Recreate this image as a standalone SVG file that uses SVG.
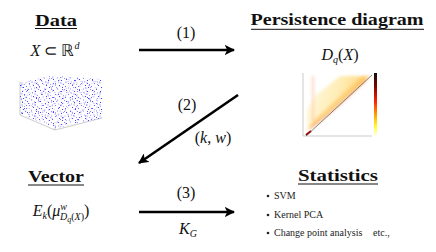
<svg xmlns="http://www.w3.org/2000/svg" width="436" height="252" viewBox="0 0 436 252" font-family="'Liberation Serif', 'Times New Roman', serif">
<style>
.t{font-weight:bold;font-size:17px;text-anchor:middle;fill:#111}
.m{font-style:italic;font-size:16px;text-anchor:middle;fill:#111}
.n{font-size:16px;text-anchor:middle;fill:#111}
.s{font-size:10px;fill:#222}
.u{stroke:#111;stroke-width:1}
.c{stroke:#000;stroke-width:2.6;fill:none}
.ax{stroke:#aaa;stroke-width:0.6;fill:none}
</style>
<defs>
<marker id="ah" viewBox="0 0 10 10" refX="9" refY="5" markerWidth="4" markerHeight="4" orient="auto" markerUnits="strokeWidth">
<path d="M0,0 L10,5 L0,10 L2.5,5 Z" fill="#000"/>
</marker>
<pattern id="p1" width="13" height="11" patternUnits="userSpaceOnUse">
<g fill="#4040ff">
<rect x="1" y="2" width="1" height="1"/><rect x="5" y="0.5" width="1" height="1" opacity=".6"/>
<rect x="9" y="3" width="1" height="1"/><rect x="3" y="6" width="1" height="1" opacity=".7"/>
<rect x="7" y="8" width="1" height="1"/><rect x="11" y="7" width="1" height="1" opacity=".5"/>
<rect x="0" y="9" width="1" height="1" opacity=".8"/><rect x="10" y="10" width="1" height="1"/>
<rect x="6" y="4.5" width="1" height="1" opacity=".5"/><rect x="12" y="1" width="1" height="1" opacity=".6"/>
<rect x="2.5" y="4" width="1" height="1" opacity=".4"/><rect x="8.5" y="5.5" width="1" height="1" opacity=".7"/>
</g>
</pattern>
<pattern id="p2" width="17" height="14" patternUnits="userSpaceOnUse" patternTransform="translate(3,2)">
<g fill="#5a5aff">
<rect x="2" y="1" width="1" height="1" opacity=".6"/><rect x="8" y="3" width="1" height="1"/>
<rect x="14" y="1.5" width="1" height="1" opacity=".7"/><rect x="4" y="8" width="1" height="1"/>
<rect x="12" y="6" width="1" height="1" opacity=".5"/><rect x="16" y="11" width="1" height="1"/>
<rect x="9" y="12" width="1" height="1" opacity=".6"/><rect x="1" y="12.5" width="1" height="1"/>
<rect x="6" y="5" width="1" height="1" opacity=".8"/><rect x="11" y="9.5" width="1" height="1" opacity=".5"/>
<rect x="15" y="4.5" width="1" height="1" opacity=".6"/><rect x="5.5" y="10.5" width="1" height="1" opacity=".4"/>
</g>
</pattern>
<pattern id="p3" width="7" height="9" patternUnits="userSpaceOnUse" patternTransform="translate(1,4) rotate(17)">
<g fill="#7070ff">
<rect x="1" y="1" width="1" height="1" opacity=".55"/><rect x="4.5" y="4" width="1" height="1" opacity=".4"/>
<rect x="2.5" y="7" width="1" height="1" opacity=".6"/>
</g>
</pattern>
<linearGradient id="cb" x1="0" y1="0" x2="0" y2="1">
<stop offset="0" stop-color="#111"/><stop offset="0.2" stop-color="#7a0000"/>
<stop offset="0.45" stop-color="#ff2000"/><stop offset="0.65" stop-color="#ff9a00"/>
<stop offset="0.85" stop-color="#ffff30"/><stop offset="1" stop-color="#fffff0"/>
</linearGradient>
<linearGradient id="wedge" x1="0" y1="0" x2="1" y2="0.3">
<stop offset="0" stop-color="#fffbea"/><stop offset="0.5" stop-color="#ffeeb8"/><stop offset="1" stop-color="#ffd070"/>
</linearGradient>
<filter id="blur" x="-20%" y="-20%" width="140%" height="140%"><feGaussianBlur stdDeviation="1.6"/></filter>
</defs>

<g id="data">
<text class="t" x="56" y="26" textLength="42" lengthAdjust="spacingAndGlyphs">Data</text>
<line class="u" x1="35" y1="28.5" x2="77" y2="28.5"/>
<text class="n" x="55" y="56"><tspan font-style="italic">X</tspan> ⊂ ℝ<tspan font-size="10" font-style="italic" dy="-7">d</tspan></text>
<g id="pointcloud">
<polyline class="ax" points="20,82 20,115 55,130 102,118"/>
<line class="ax" x1="55" y1="130" x2="55" y2="127"/>
<polygon points="20,82 52,76 102,79 102,118 57,128 20,114" fill="url(#p1)"/>
<polygon points="20,82 52,76 102,79 102,118 57,128 20,114" fill="url(#p2)"/>
<polygon points="20,82 52,76 102,79 102,118 57,128 20,114" fill="url(#p3)"/>
</g>
</g>

<g id="persistence">
<text class="t" x="337" y="25" textLength="173" lengthAdjust="spacingAndGlyphs">Persistence diagram</text>
<line class="u" x1="251" y1="29.3" x2="424" y2="29.3"/>
<text class="m" x="340" y="60">D<tspan font-size="10" dy="3">q</tspan><tspan dy="-3" font-style="normal">(</tspan>X<tspan font-style="normal">)</tspan></text>
<g id="pdplot">
<polyline class="ax" points="303,73 303,136 372,136"/>
<g filter="url(#blur)">
<polygon points="307,132 370,76 340,76 315,96 307,110" fill="url(#wedge)"/>
<polygon points="308,131 370,76 362,76 313,121" fill="#ffc050" opacity="0.55"/>
<path d="M310,128 Q328,116 366,80" stroke="#f06000" stroke-width="1.5" fill="none" opacity="0.65"/>
<rect x="312" y="76" width="2" height="45" fill="#ffc0a0" opacity="0.7"/>
</g>
<path d="M306,135 L311,131" stroke="#a00000" stroke-width="2"/>
<line x1="306" y1="136" x2="372" y2="75" stroke="#555" stroke-width="0.7"/>
<rect x="374" y="73" width="3" height="63" fill="url(#cb)"/>
</g>
</g>

<g id="vector">
<text class="t" x="56" y="182" textLength="56" lengthAdjust="spacingAndGlyphs">Vector</text>
<line class="u" x1="28" y1="185" x2="84" y2="185"/>
<text class="m" x="61" y="216">E<tspan font-size="10" dy="3">k</tspan><tspan dy="-3" font-style="normal">(</tspan>μ<tspan font-size="10" dy="-6">w</tspan><tspan font-size="10" dx="-7" dy="10">D</tspan><tspan font-size="8" dy="2">q</tspan><tspan font-size="10" dy="-2" font-style="normal">(</tspan><tspan font-size="10">X</tspan><tspan font-size="10" font-style="normal">)</tspan><tspan dy="-4" font-style="normal">)</tspan></text>
</g>

<g id="statistics">
<text class="t" x="338" y="181" textLength="80" lengthAdjust="spacingAndGlyphs">Statistics</text>
<line class="u" x1="298" y1="184" x2="378" y2="184"/>
<circle cx="268" cy="196" r="1.3" fill="#222"/>
<text class="s" x="274" y="199">SVM</text>
<circle cx="268" cy="215" r="1.3" fill="#222"/>
<text class="s" x="274" y="218">Kernel PCA</text>
<circle cx="268" cy="233" r="1.3" fill="#222"/>
<text class="s" x="274" y="236">Change point analysis</text>
<text class="s" x="373" y="236">etc.,</text>
</g>

<g id="connectors">
<line class="c" x1="139" y1="50" x2="234" y2="50" marker-end="url(#ah)"/>
<text class="n" x="186" y="38">(1)</text>
<line class="c" x1="238" y1="95" x2="139" y2="163" marker-end="url(#ah)"/>
<text class="n" x="187" y="110">(2)</text>
<text class="m" x="213" y="143"><tspan font-style="normal">(</tspan>k<tspan font-style="normal">, </tspan>w<tspan font-style="normal">)</tspan></text>
<line class="c" x1="139" y1="212" x2="234" y2="212" marker-end="url(#ah)"/>
<text class="n" x="186" y="198">(3)</text>
<text class="m" x="188" y="234">K<tspan font-size="10" dy="3">G</tspan></text>
</g>
</svg>
